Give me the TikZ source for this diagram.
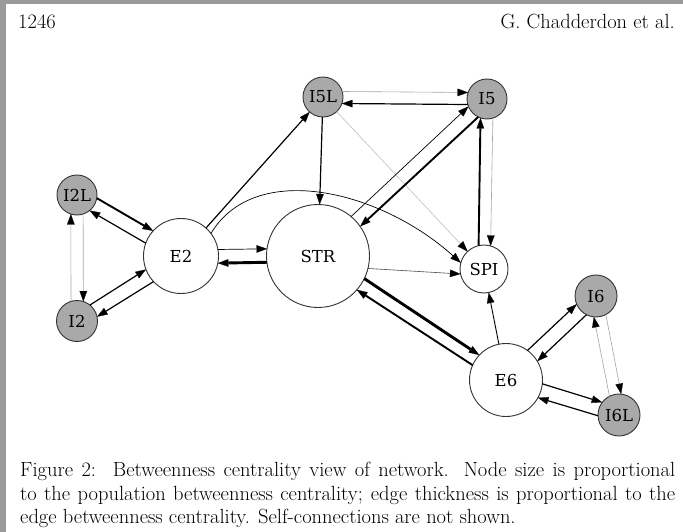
\documentclass[tikz,border=0pt]{standalone}
\usepackage{fontspec}
\newfontfamily\vertexfont{DejaVu Serif}
\usetikzlibrary{arrows.meta,calc}

\definecolor{pagegray}{HTML}{9A9A9A}
\definecolor{nodegray}{HTML}{A9A9A9}
\definecolor{rimgray}{HTML}{333333}

% Directed link drawn parallel to the centre line, shifted #4 pt to the
% left of the direction of travel, from border to border.
\newcommand\dlink[4]{%
  \draw[#1] let \p1=($(#3)-(#2)$),
                \p2=($(#2.east)-(#2.center)$),
                \p3=($(#3.east)-(#3.center)$),
                \n1={atan2(\y1,\x1)},
                \n2={asin(#4/\x2)},
                \n3={asin(#4/\x3)}
            in (#2.{\n1+\n2}) -- (#3.{\n1+180-\n3});}

\tikzset{
  headtip/.tip={Triangle[length=10.5pt,width=7.5pt,color=black,fill=black,line width=0.2pt]},
  vertex/.style={circle, draw=rimgray, line width=0.9pt, inner sep=0pt,
                 outer sep=0pt, fill=white,
                 font=\vertexfont\fontsize{16.5}{16.5}\selectfont},
  shaded/.style={vertex, fill=nodegray},
  link/.style={-headtip, line cap=butt, line join=miter},
  wHair/.style={link, draw=black!35, line width=0.6pt},
  wFine/.style={link, draw=black, line width=0.7pt},
  wMid/.style={link, draw=black, line width=1.2pt},
  wBold/.style={link, draw=black, line width=1.9pt},
  wHeavy/.style={link, draw=black, line width=2.9pt},
  pagetext/.style={inner sep=0pt, font=\fontsize{20.5}{24}\selectfont},
}

\begin{document}
\begin{tikzpicture}[x=1pt, y=-1pt]
  \useasboundingbox (0,0) rectangle (683,532);
  \fill[white] (0,0) rectangle (683,532);
  % page edge
  \fill[pagegray] (0,0) rectangle (683,4.5);
  \fill[pagegray] (0,0) rectangle (5.5,532);

  % running head
  \node[pagetext, anchor=base west] (folio) at (18,29) {1246};
  \node[pagetext, anchor=base east] (authors) at (675,29) {G. Chadderdon et al.};

  % populations
  \node[shaded, minimum size=40pt] (I5L) at (323,97)  {I5L};
  \node[shaded, minimum size=40pt] (I5)  at (487,99)  {I5};
  \node[shaded, minimum size=40pt] (I2L) at (77,195)  {I2L};
  \node[shaded, minimum size=41pt] (I2)  at (77,321)  {I2};
  \node[vertex, minimum size=75pt] (E2)  at (181,256) {E2};
  \node[vertex, minimum size=103pt] (STR) at (318,256) {STR};
  \node[vertex, minimum size=48pt] (SPI) at (484,269) {SPI};
  \node[vertex, minimum size=73pt] (E6)  at (506,380) {E6};
  \node[shaded, minimum size=42pt] (I6)  at (596,296) {I6};
  \node[shaded, minimum size=42pt] (I6L) at (619,415) {I6L};

  % E2 cluster
  \dlink{wBold}{I2L}{E2}{7}
  \dlink{wMid}{E2}{I2L}{7}
  \dlink{wMid}{I2}{E2}{7}
  \dlink{wMid}{E2}{I2}{7}
  \dlink{wHair}{I2}{I2L}{6}
  \dlink{wHair}{I2L}{I2}{6}
  \dlink{wFine}{E2}{STR}{7}
  \dlink{wHeavy}{STR}{E2}{7}
  \draw[wMid] (E2) -- (I5L);
  \draw[wFine] (E2.37) .. controls (255,160) and (380,190) .. (SPI.165);

  % I5 cluster
  \draw[wMid] (I5L) -- (STR);
  \dlink{wHair}{I5L}{I5}{6}
  \dlink{wMid}{I5}{I5L}{6}
  \draw[wHair, draw=black!25] (I5L) -- (SPI);
  \dlink{wFine}{STR}{I5}{7}
  \dlink{wBold}{I5}{STR}{7}
  \dlink{wBold}{SPI}{I5}{6}
  \dlink{wHair}{I5}{SPI}{6}

  % STR, SPI and E6
  \draw[wFine, draw=black!70, line width=0.6pt] (STR.-14) -- (SPI.192);
  \dlink{wHeavy}{STR}{E6}{6}
  \dlink{wBold}{E6}{STR}{6}
  \draw[wFine, line width=0.9pt] (E6) -- (SPI);

  % E6 cluster
  \dlink{wMid}{E6}{I6}{7}
  \dlink{wMid}{I6}{E6}{7}
  \dlink{wMid}{E6}{I6L}{7}
  \dlink{wMid}{I6L}{E6}{7}
  \dlink{wHair}{I6L}{I6}{6}
  \dlink{wHair}{I6}{I6L}{6}

  % caption
  \node[pagetext, anchor=base west] (cap1) at (20,476)
    {\makebox[655pt][s]{Figure 2:\ \ Betweenness centrality view of network. Node size is proportional}};
  \node[pagetext, anchor=base west] (cap2) at (20,500)
    {\makebox[655pt][s]{to the population betweenness centrality; edge thickness is proportional to the}};
  \node[pagetext, anchor=base west] (cap3) at (20,523)
    {edge betweenness centrality. Self-connections are not shown.};
\end{tikzpicture}
\end{document}
